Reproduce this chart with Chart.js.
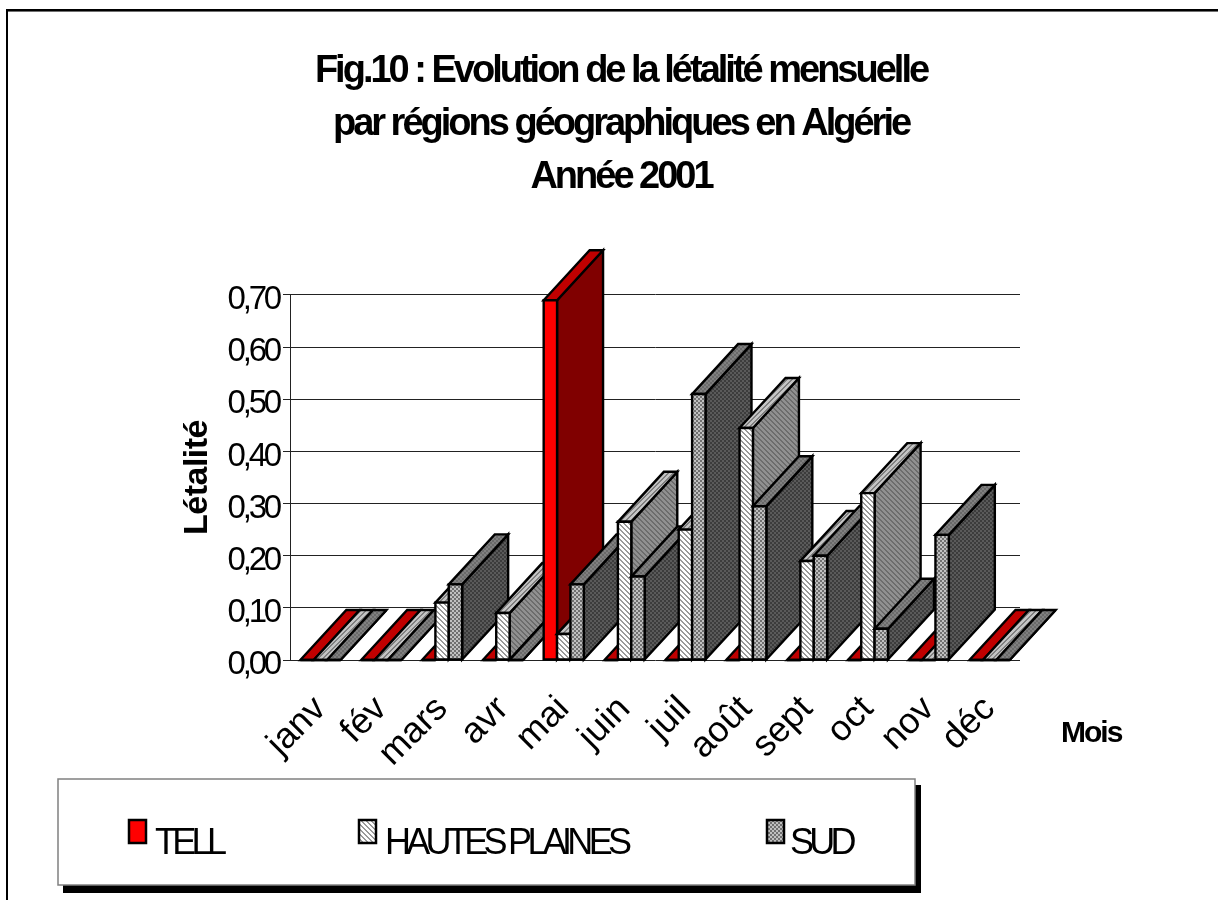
<!DOCTYPE html>
<html><head><meta charset="utf-8">
<style>html,body{margin:0;padding:0;background:#fff}canvas{display:block}</style>
<script src="https://cdn.jsdelivr.net/npm/chart.js@4"></script></head>
<body><canvas id="c" width="1218" height="900"></canvas>
<script>
const months = ['janv','fév','mars','avr','mai','juin','juil','août','sept','oct','nov','déc'];
const tell = [0,0,0,0,0.69,0,0,0,0,0,0,0];
const hautesPlaines = [0,0,0.11,0.09,0.05,0.265,0.25,0.445,0.19,0.32,0,0];
const sud = [0,0,0.145,0,0.145,0.16,0.51,0.295,0.20,0.06,0.24,0];
const seriesNames = ['TELL','HAUTES PLAINES','SUD'];
const titleLines = ['Fig.10 : Evolution de la létalité mensuelle','par régions géographiques en Algérie','Année 2001'];
const yTitle = 'Létalité';
const xTitle = 'Mois';

const FONT = '"Liberation Sans", Arial, sans-serif';
function pat(n, bg, fg, test){
  const c = document.createElement('canvas'); c.width = c.height = n;
  const g = c.getContext('2d');
  g.fillStyle = bg; g.fillRect(0,0,n,n); g.fillStyle = fg;
  for(let y=0;y<n;y++)for(let x=0;x<n;x++) if(test(x,y)) g.fillRect(x,y,1,1);
  return g.createPattern(c,'repeat');
}
const diagB = (x,y)=>((x-y+60)%5)<2;
const diagF = (x,y)=>((x+y)%5)<2;
const check = (x,y)=>(((x>>1)+(y>>1))%2)===0;
const faces = [
  {front:'#ff0000', top:'#c00000', side:'#800000'},
  {front:pat(5,'#ffffff','#9a9a9a',diagB), top:pat(5,'#c4c4c4','#808080',diagF), side:pat(5,'#909090','#6c6c6c',diagB)},
  {front:pat(4,'#c0c0c0','#707070',check), top:pat(4,'#808080','#6a6a6a',check), side:pat(4,'#5a5a5a','#3c3c3c',check)}
];
const DX = 46, DY = -50;

function poly(c, pts, fill){
  c.beginPath(); pts.forEach((p,i)=> i? c.lineTo(p[0],p[1]) : c.moveTo(p[0],p[1])); c.closePath();
  c.fillStyle = fill; c.fill(); c.stroke();
}
function spaced(obj, method, ls){
  const f = obj[method];
  obj[method] = function(...a){ const c = this.ctx; c.save(); c.letterSpacing = ls; f.apply(this,a); c.restore(); };
}
const bars3d = {
  id:'bars3d',
  beforeDraw(chart){
    const c = chart.ctx;
    if(!chart.$w){
      chart.$w = true;
      spaced(chart.titleBlock,'draw','-3px');
      spaced(chart.scales.y,'drawLabels','-3.2px');
      spaced(chart.scales.y,'drawTitle','-0.5px');
    }
    c.save();
    c.fillStyle='#fff'; c.fillRect(0,0,1218,900);
    c.fillStyle='#707070'; c.fillRect(6,10,1212,2);
    c.fillStyle='#000'; c.fillRect(6,9,1212,2); c.fillRect(6,9,2,891);
    c.restore();
  },
  afterDatasetsDraw(chart){
    const c = chart.ctx;
    c.save();
    c.strokeStyle='#000'; c.lineWidth=2.4; c.lineJoin='miter';
    months.forEach((m,i)=>{
      chart.data.datasets.forEach((d,k)=>{
        const el = chart.getDatasetMeta(k).data[i];
        const l = el.x-el.width/2, r = el.x+el.width/2, t = el.y, b = el.base, f = faces[k];
        poly(c,[[r,t],[r+DX,t+DY],[r+DX,b+DY],[r,b]],f.side);
        poly(c,[[l,t],[l+DX,t+DY],[r+DX,t+DY],[r,t]],f.top);
        poly(c,[[l,t],[r,t],[r,b],[l,b]],f.front);
      });
    });
    c.restore();
  },
  afterDraw(chart){
    const c = chart.ctx;
    c.save();
    c.fillStyle='#000'; c.textBaseline='alphabetic'; c.textAlign='left';
    c.font='bold 30px '+FONT; c.letterSpacing='-2px';
    c.fillText(xTitle,1061,742);
    // legend box
    c.letterSpacing='0px';
    c.fillStyle='#000'; c.fillRect(63,785,858,108);
    c.fillStyle='#fff'; c.fillRect(58,779,857,106);
    c.strokeStyle='#808080'; c.lineWidth=1.5; c.strokeRect(58,779,857,106);
    const pos=[[129,155],[359,385],[767,790]];
    c.font='36px '+FONT; c.letterSpacing='-4.7px';
    chart.data.datasets.forEach((d,k)=>{
      c.fillStyle=faces[k].front; c.strokeStyle='#000'; c.lineWidth=2.5;
      c.fillRect(pos[k][0],820,17,23); c.strokeRect(pos[k][0],820,17,23);
      c.fillStyle='#000'; c.fillText(d.label,pos[k][1],854);
    });
    c.restore();
  }
};
const barShape = {categoryPercentage:0.66,barPercentage:1,borderWidth:0};
new Chart(document.getElementById('c'),{
  type:'bar',
  plugins:[bars3d],
  data:{labels:months,datasets:[
    {label:seriesNames[0],data:tell,backgroundColor:faces[0].front,...barShape},
    {label:seriesNames[1],data:hautesPlaines,backgroundColor:faces[1].front,...barShape},
    {label:seriesNames[2],data:sud,backgroundColor:faces[2].front,...barShape}
  ]},
  options:{
    responsive:false,animation:false,
    layout:{padding:{left:24,right:0,top:0,bottom:0}},
    plugins:{
      legend:{display:false},tooltip:{enabled:false},
      title:{display:true,text:titleLines,color:'#000',
        font:{family:FONT,size:38,weight:'bold',lineHeight:1.3947},
        padding:{top:45,bottom:91}}
    },
    scales:{
      x:{
        grid:{display:false},border:{display:false},
        ticks:{autoSkip:false,minRotation:45,maxRotation:45,color:'#000',padding:20,labelOffset:0,
          font:{family:FONT,size:36}},
        afterFit(s){s.height=240;}
      },
      y:{
        min:0,max:0.7,
        grid:{color:'#222',lineWidth:1,tickLength:7},
        border:{display:true,color:'#222',width:1},
        ticks:{stepSize:0.1,color:'#000',padding:4,labelOffset:5,
          font:{family:FONT,size:33},
          callback:v=>v.toFixed(2).replace('.',',')},
        title:{display:true,text:yTitle,color:'#000',
          font:{family:FONT,size:34,weight:'bold'},padding:{top:153,bottom:0}},
        afterFit(s){s.width=266;}
      },
      yRight:{
        position:'right',display:true,
        grid:{display:false},border:{display:false},ticks:{display:false},
        afterFit(s){s.width=198;}
      }
    }
  }
});
</script></body></html>
